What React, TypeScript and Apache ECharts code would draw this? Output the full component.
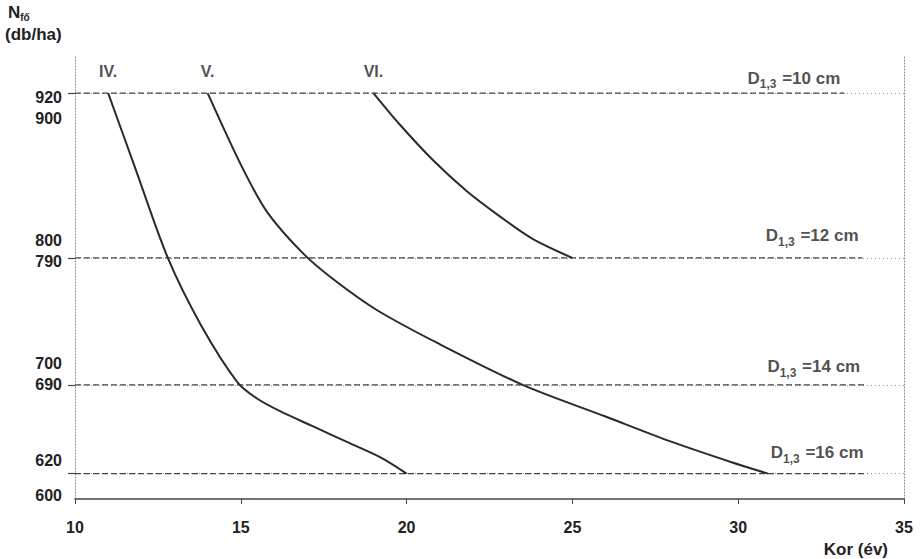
import { useEffect, useRef } from "react";
import * as echarts from "echarts";

// ---- data ----
const xMin = 10;
const xMax = 35;
const xStep = 5;
const yMin = 600;
const yMax = 950;
const yStep = 50;
const yLabelValues = [600, 620, 690, 700, 790, 800, 900, 920];
const thresholdValues = [920, 790, 690, 620];
const thresholdEnds = [33.2, 33.75, 33.8, 33.9];
const diameterLabels = ["10", "12", "14", "16"];

const curveNames = ["IV.", "V.", "VI."];
const ageIV = [11.0, 11.8, 12.8, 13.8, 14.9, 15.5, 16.2, 17.2, 18.2, 19.2, 20.0];
const nIV = [920, 862, 790, 737, 692, 679, 669, 657, 645, 633, 620];
const ageV = [14.0, 15.05, 15.8, 16.9, 17.8, 19.1, 21.0, 23.5, 26.0, 28.0, 29.8, 30.9];
const nV = [920, 861, 826, 793, 773, 749, 722, 690, 665, 645, 629, 620];
const ageVI = [19.0, 19.8, 20.8, 21.8, 22.8, 23.8, 25.0];
const nVI = [920, 895, 867, 843, 823, 805, 790];

const FONT = "'Liberation Sans', Arial, sans-serif";
const INK = "#222222";

// vertical nudges of the y tick labels (px, + = down)
const labelShift: Record<number, number> = {
  920: 4, 900: 0, 800: -5, 790: 4, 700: -9, 690: 0, 620: -13, 600: -4,
};
const dLabelOffsets = [-15, -22, -18, -21];

function zip(a: number[], b: number[]) {
  return a.map((v, i) => [v, b[i]]);
}

export default function App() {
  const ref = useRef<HTMLDivElement>(null);

  useEffect(() => {
    document.body.style.margin = "0";
    const chart = echarts.init(ref.current!, null, { renderer: "svg" });

    const rich: Record<string, any> = {};
    yLabelValues.forEach((v) => {
      const d = labelShift[v] || 0;
      rich["k" + v] = {
        fontSize: 16,
        fontWeight: "bold",
        fontFamily: FONT,
        color: INK,
        padding: d >= 0 ? [2 * d, 0, 0, 0] : [0, 0, -2 * d, 0],
      };
    });

    const dRich = {
      d: { fontSize: 17, fontWeight: "bold", fontFamily: FONT, color: INK, verticalAlign: "middle" },
      s: { fontSize: 12, fontWeight: "bold", fontFamily: FONT, color: INK, verticalAlign: "middle", padding: [12, 1, 0, 0] },
    };

    const curves = [zip(ageIV, nIV), zip(ageV, nV), zip(ageVI, nVI)];

    const option: any = {
      animation: false,
      backgroundColor: "#ffffff",
      grid: { left: 75, right: 16, top: 55, bottom: 60 },
      xAxis: {
        type: "value",
        min: xMin,
        max: xMax,
        interval: xStep,
        axisLine: { show: true, lineStyle: { color: "#444", width: 1.6 } },
        axisTick: { show: true, length: 5, inside: false, lineStyle: { color: "#444", width: 1 } },
        axisLabel: { fontSize: 16, fontWeight: "bold", fontFamily: FONT, color: INK, margin: 20 },
        splitLine: { show: false },
      },
      yAxis: [
        {
          type: "value",
          min: yMin,
          max: yMax,
          interval: yStep,
          axisLine: { show: true, lineStyle: { color: "#888", width: 1, type: [1, 2] } },
          axisTick: {
            show: true,
            customValues: thresholdValues,
            length: 7,
            lineStyle: { color: "#444", width: 1.2 },
          },
          axisLabel: {
            customValues: yLabelValues,
            margin: 13,
            formatter: (v: number) => `{k${v}|${v}}`,
            rich,
          },
          splitLine: { show: true, lineStyle: { color: "#999", width: 1, type: [1, 3] } },
        },
        {
          type: "value",
          position: "right",
          min: yMin,
          max: yMax,
          interval: yStep,
          axisLine: { show: true, lineStyle: { color: "#888", width: 1, type: [1, 2] } },
          axisTick: { show: false },
          axisLabel: { show: false },
          splitLine: { show: false },
        },
      ],
      series: [
        ...thresholdValues.map((v, i) => ({
          type: "line",
          data: [[xMin, v], [thresholdEnds[i], v]],
          symbol: "none",
          silent: true,
          lineStyle: { color: "#444", width: 1.2, type: [6, 3] },
          z: 2,
        })),
        ...curves.map((data) => ({
          type: "line",
          data,
          smooth: 0.3,
          symbol: "none",
          silent: true,
          lineStyle: { color: "#2a2a2a", width: 2 },
          z: 3,
        })),
        {
          type: "scatter",
          symbolSize: 0,
          silent: true,
          data: curves.map((c, i) => ({ value: c[0], name: curveNames[i] })),
          label: {
            show: true,
            position: "top",
            distance: 14,
            formatter: (p: any) => p.name,
            fontSize: 16,
            fontWeight: "bold",
            fontFamily: FONT,
            color: INK,
          },
          z: 4,
        },
        {
          type: "scatter",
          symbolSize: 0,
          silent: true,
          data: thresholdValues.map((v, i) => ({
            value: [thresholdEnds[i], v],
            name: diameterLabels[i],
            label: { offset: [0, dLabelOffsets[i]] },
          })),
          label: {
            show: true,
            position: "left",
            distance: 4,
            formatter: (p: any) => `{d|D}{s|1,3}{d| =${p.name} cm}`,
            rich: dRich,
          },
          z: 4,
        },
      ],
      graphic: [
        {
          type: "text",
          left: 8,
          top: 4,
          style: {
            text: "{n|N}{s|fő}",
            rich: {
              n: { fontSize: 17, fontWeight: "bold", fontFamily: FONT, fill: INK, verticalAlign: "middle" },
              s: { fontSize: 10, fontWeight: "bold", fontFamily: FONT, fill: INK, verticalAlign: "middle", padding: [10, 0, 0, 0] },
            },
          },
        },
        {
          type: "text",
          left: 5,
          top: 26,
          style: { text: "(db/ha)", fontSize: 17, fontWeight: "bold", fontFamily: FONT, fill: INK },
        },
        {
          type: "text",
          right: 32,
          top: 541,
          style: { text: "Kor (év)", fontSize: 17, fontWeight: "bold", fontFamily: FONT, fill: INK },
        },
      ],
    };

    chart.setOption(option);
    return () => chart.dispose();
  }, []);

  return <div ref={ref} style={{ width: 920, height: 559 }} />;
}
